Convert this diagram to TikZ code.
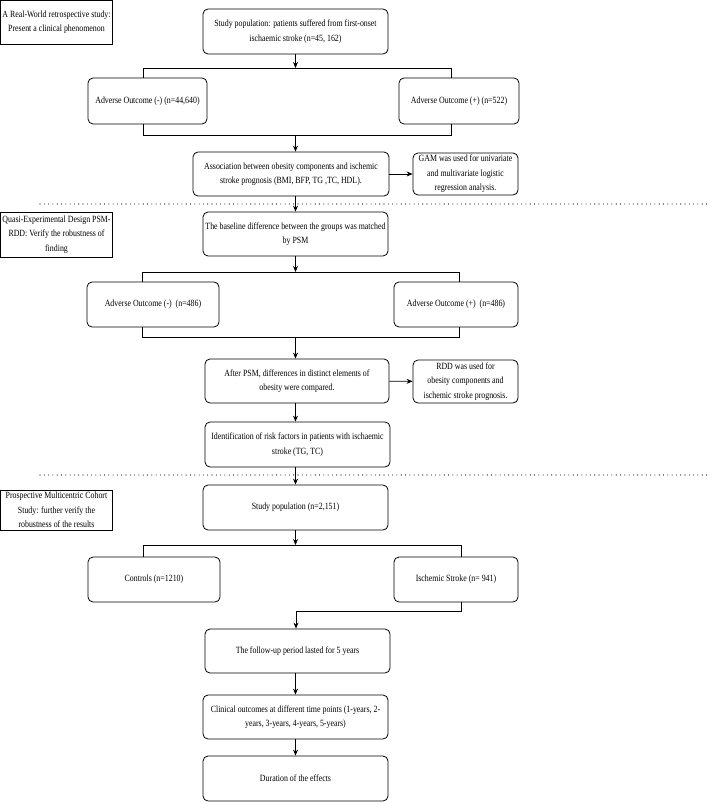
\documentclass[tikz,border=0pt]{standalone}
\usepackage{fontspec}
\setmainfont{Liberation Serif}[FakeStretch=0.83]
\usetikzlibrary{arrows.meta}
\tikzset{
  box/.style={draw, rounded corners=5pt, align=center, inner sep=2pt,
    font=\fontsize{9.5}{14.5}\selectfont},
  tag/.style={draw, align=center, inner sep=2pt, minimum width=112pt,
    font=\fontsize{9.5}{14.5}\selectfont},
  sep/.style={line width=1.1pt, line cap=round, dash pattern=on 0pt off 4.3pt},
  arr/.style={-{Stealth[length=6pt,width=5pt]}}
}
\begin{document}
\begin{tikzpicture}[x=1pt, y=-1pt, line width=0.8pt]
    \useasboundingbox (0,0) rectangle (709,802);

    % part 1
    \node[tag, minimum height=44pt] (lab1) at (56.5,22)
    {A Real-World retrospective study:\\Present a clinical phenomenon};
    \node[box, minimum width=185pt, minimum height=45pt] (pop1) at (295.5,31.5)
    {Study population: patients suffered from first-onset\\ischaemic stroke (n=45, 162)};
    \node[box, minimum width=119pt, minimum height=46pt] (neg1) at (147.5,101)
    {Adverse Outcome (-) (n=44,640)};
    \node[box, minimum width=120pt, minimum height=46pt] (pos1) at (459,101)
    {Adverse Outcome (+) (n=522)};
    \node[box, minimum width=196pt, minimum height=44pt] (assoc) at (291,174)
    {Association between obesity components and ischemic\\stroke prognosis (BMI, BFP, TG ,TC, HDL).};
    \node[box, minimum width=105pt, minimum height=42pt] (gam) at (465.5,174)
    {GAM was used for univariate\\and multivariate logistic\\regression analysis.};

    \coordinate (t1l) at (143,68); \coordinate (t1r) at (451,68);
    \coordinate (b1l) at (143,135); \coordinate (b1r) at (451,135);

    \path[arr] (pop1) edge (pop1 |- t1l);
    \draw (neg1.north -| t1l) -- (t1l) -- (t1r) -- (pos1.north -| t1r);
    \draw (neg1.south -| b1l) -- (b1l) -- (b1r) -- (pos1.south -| b1r);
    \path[arr] (b1l -| pop1) edge (assoc.north -| pop1);
    \path[arr] (assoc) edge (gam);

    \coordinate (d1) at (40,204); \coordinate (d1e) at (709,204);
    \draw[sep] (d1) -- (d1e);

    % part 2
    \node[tag, minimum height=45pt] (lab2) at (56.5,234.5)
    {Quasi-Experimental Design PSM-\\RDD: Verify the robustness of\\finding};
    \node[box, minimum width=185pt, minimum height=44pt] (base) at (295.5,234)
    {The baseline difference between the groups was matched\\by PSM};
    \node[box, minimum width=132pt, minimum height=45pt] (neg2) at (153,304.5)
    {Adverse Outcome (-)~ (n=486)};
    \node[box, minimum width=124pt, minimum height=45pt] (pos2) at (456,304.5)
    {Adverse Outcome (+)~ (n=486)};
    \node[box, minimum width=184pt, minimum height=44pt] (after) at (297,381)
    {After PSM, differences in distinct elements of\\obesity were compared.};
    \node[box, minimum width=105pt, minimum height=43pt] (rdd) at (465.5,381.5)
    {RDD was used for\\obesity components and\\ischemic stroke prognosis.};
    \node[box, minimum width=185pt, minimum height=45pt] (ident) at (297.5,444.5)
    {Identification of risk factors in patients with ischaemic\\stroke (TG, TC)};

    \coordinate (t2l) at (142,272); \coordinate (t2r) at (459,272);
    \coordinate (b2l) at (142,337); \coordinate (b2r) at (459,337);

    \path[arr] (assoc.south -| base) edge (base);
    \path[arr] (base) edge (base |- t2l);
    \draw (neg2.north -| t2l) -- (t2l) -- (t2r) -- (pos2.north -| t2r);
    \draw (neg2.south -| b2l) -- (b2l) -- (b2r) -- (pos2.south -| b2r);
    \path[arr] (b2l -| base) edge (after.north -| base);
    \path[arr] (after) edge (rdd);
    \path[arr] (after.south -| base) edge (ident.north -| base);

    \coordinate (d2) at (40,475); \coordinate (d2e) at (709,475);
    \draw[sep] (d2) -- (d2e);

    % part 3
    \node[tag, minimum height=40pt] (lab3) at (56.5,510)
    {Prospective Multicentric Cohort\\Study: further verify the\\robustness of the results};
    \node[box, minimum width=185pt, minimum height=45pt] (pop2) at (295.5,507.5)
    {Study population (n=2,151)};
    \node[box, minimum width=132pt, minimum height=45pt] (ctrl) at (154,579.5)
    {Controls (n=1210)};
    \node[box, minimum width=124pt, minimum height=45pt] (isch) at (456,579.5)
    {Ischemic Stroke (n= 941)};
    \node[box, minimum width=185pt, minimum height=44pt] (follow) at (297.5,651)
    {The follow-up period lasted for 5 years};
    \node[box, minimum width=185pt, minimum height=44pt] (clin) at (295.5,717)
    {Clinical outcomes at different time points (1-years, 2-\\years, 3-years, 4-years, 5-years)};
    \node[box, minimum width=185pt, minimum height=45pt] (dur) at (295.5,778.5)
    {Duration of the effects};

    \coordinate (t3l) at (143,545); \coordinate (t3r) at (461,545);
    \coordinate (e3) at (461,611);

    \path[arr] (ident.south -| pop2) edge (pop2);
    \path[arr] (pop2) edge (pop2 |- t3l);
    \draw (ctrl.north -| t3l) -- (t3l) -- (t3r) -- (isch.north -| t3r);
    \draw (isch.south -| e3) -- (e3) -- (e3 -| 296,0);
    \path[arr] (e3 -| 296,0) edge (follow.north -| 296,0);
    \path[arr] (follow.south -| clin) edge (clin);
    \path[arr] (clin) edge (dur);
\end{tikzpicture}
\end{document}
